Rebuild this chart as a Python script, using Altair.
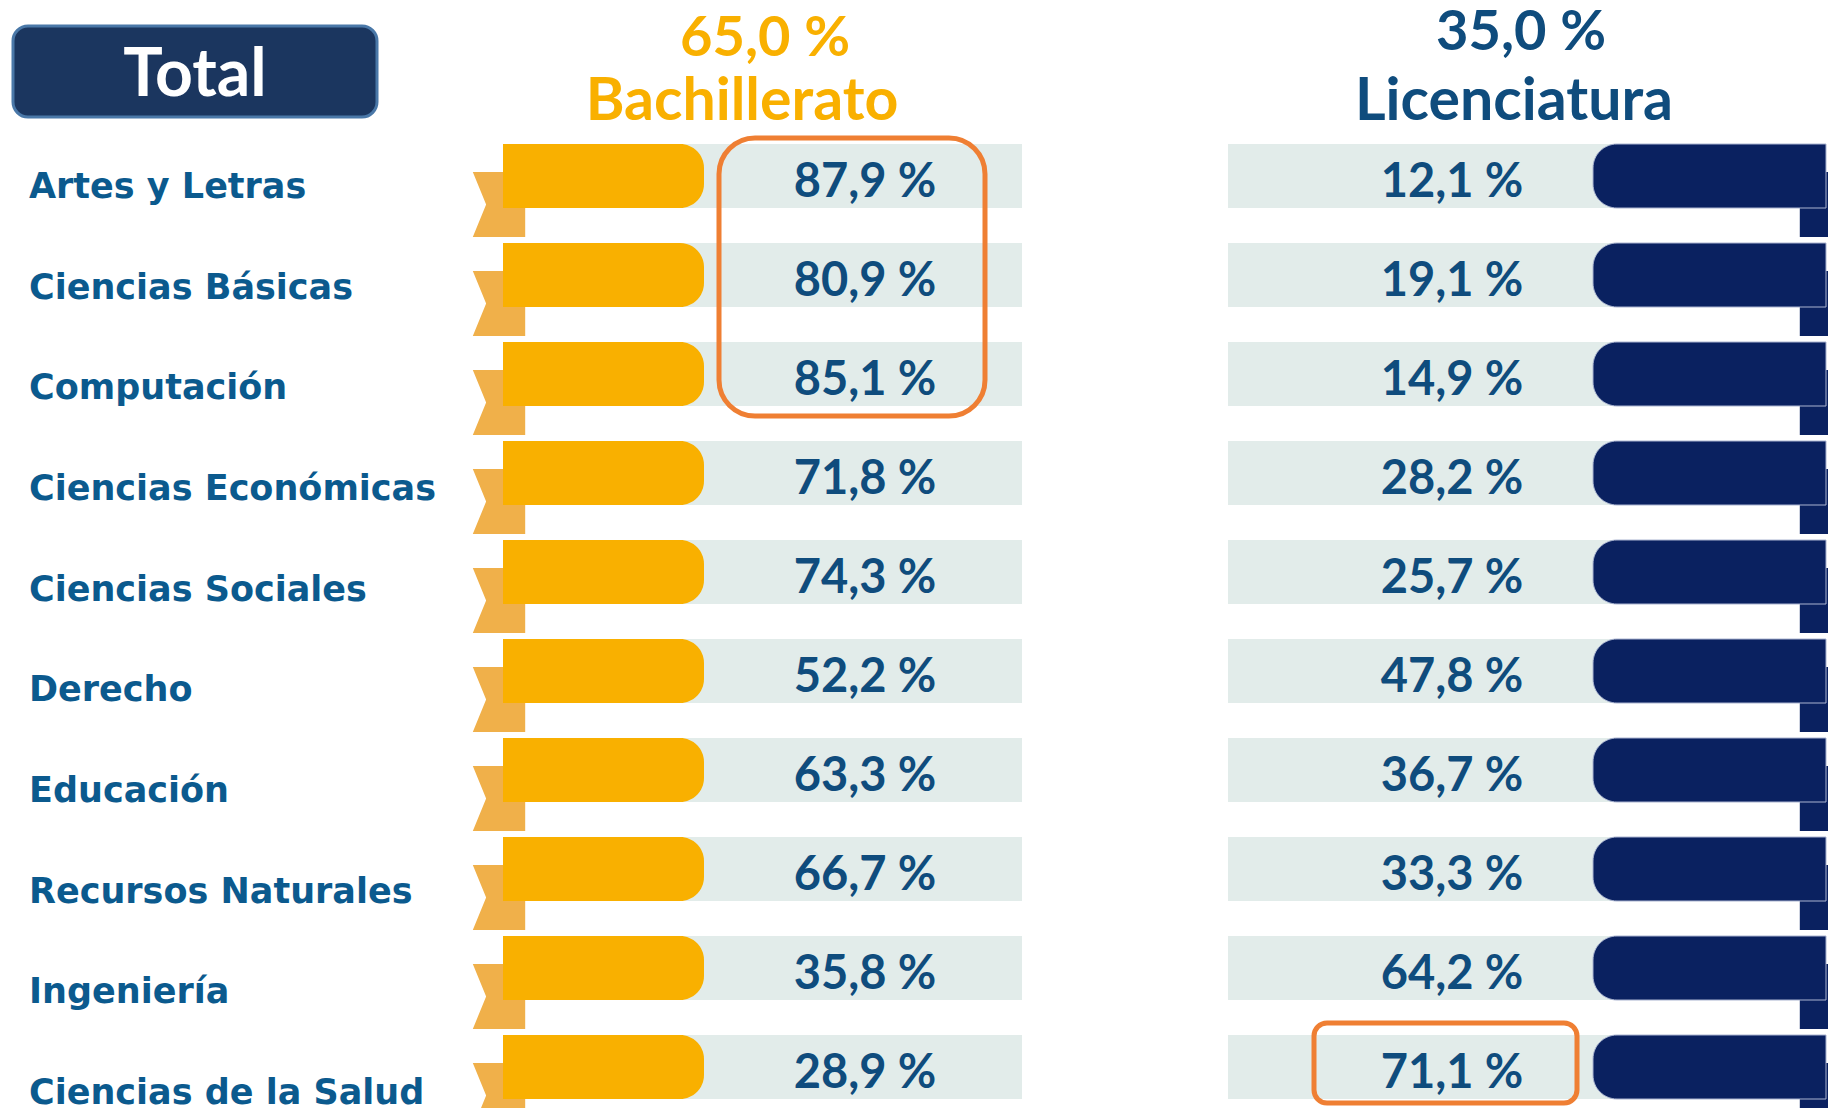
import altair as alt
import pandas as pd

# ---------------- data ----------------
categories = [
    "Artes y Letras", "Ciencias Básicas", "Computación", "Ciencias Económicas",
    "Ciencias Sociales", "Derecho", "Educación", "Recursos Naturales",
    "Ingeniería", "Ciencias de la Salud",
]
bachillerato = [87.9, 80.9, 85.1, 71.8, 74.3, 52.2, 63.3, 66.7, 35.8, 28.9]
licenciatura = [12.1, 19.1, 14.9, 28.2, 25.7, 47.8, 36.7, 33.3, 64.2, 71.1]
group_names = ["Bachillerato", "Licenciatura"]
group_totals = [65.0, 35.0]
title_text = ["Total"]
# highlighted cells: group, first row, last row
highlight_groups = ["Bachillerato", "Licenciatura"]
highlight_first = [0, 9]
highlight_last = [2, 9]


def pct(v):
    return f"{v:.1f}".replace(".", ",") + " %"


rows = pd.DataFrame({
    "row": list(range(len(categories))),
    "category": categories,
    "bach": bachillerato,
    "lic": licenciatura,
})
rows["bach_txt"] = [pct(v) for v in bachillerato]
rows["lic_txt"] = [pct(v) for v in licenciatura]

hdr = pd.DataFrame({"group": group_names, "total_txt": [pct(v) for v in group_totals]})
ttl = pd.DataFrame({"title": title_text})
hl = pd.DataFrame({"group": highlight_groups, "first": highlight_first, "last": highlight_last})

# ---------------- layout / style ----------------
PLOT_W, PLOT_H = 1820, 1100
ROW0 = 176          # screen y of first row centre
ROW_PX = 99         # pixels per row
LABEL_STEP = 100.67 / ROW_PX
LABEL_OFF = 22 / ROW_PX

ORANGE = "#f9b000"
ORANGE_TAIL = "#f0b04a"
NAVY = "#0a2160"
GRAY = "#e2ecea"
TXT = "#0f4c7d"
LABEL = "#0b5a8e"
HL = "#ef7f33"


def u(px):
    return px / ROW_PX


def sy(screen_y):
    return (screen_y - ROW0) / ROW_PX


XS = alt.Scale(domain=[8, 8 + PLOT_W], nice=False, zero=False)
YS = alt.Scale(domain=[sy(8), sy(8 + PLOT_H)], reverse=True, nice=False, zero=False)


def X(v):
    return alt.XDatum(v, type="quantitative", scale=XS, axis=None)


def X2(v):
    return alt.X2Datum(v)


def Yf(field):
    return alt.Y(field, type="quantitative", scale=YS, axis=None)


def Yd(v):
    return alt.YDatum(v, type="quantitative", scale=YS, axis=None)


TAIL_L = "M -0.806 -1 L 0.806 -1 L 0.806 1 L -0.806 1 L -0.396 0 Z"
TAIL_R = "M -0.806 -1 L 0.806 -1 L 0.396 0 L 0.806 1 L -0.806 1 Z"

base = alt.Chart(rows).transform_calculate(
    yt=f"datum.row - {u(32)}",
    yb=f"datum.row + {u(32)}",
    ytail=f"datum.row + {u(28.5)}",
    yval=f"datum.row + {u(21)}",
    ylab=f"datum.row * {LABEL_STEP} + {LABEL_OFF}",
)

gray_l = base.mark_rect(color=GRAY).encode(x=X(503), x2=X2(1022), y=Yf("yt"), y2="yb:Q")
tail_l = base.mark_point(shape=TAIL_L, size=65 * 65, filled=True, color=ORANGE_TAIL, opacity=1).encode(
    x=X(499), y=Yf("ytail"))
bar_l = base.mark_rect(color=ORANGE, cornerRadiusTopRight=24, cornerRadiusBottomRight=24).encode(
    x=X(503), x2=X2(704), y=Yf("yt"), y2="yb:Q")

gray_r = base.mark_rect(color=GRAY).encode(x=X(1228), x2=X2(1826), y=Yf("yt"), y2="yb:Q")
tail_r = base.mark_point(shape=TAIL_R, size=65 * 65, filled=True, color=NAVY, opacity=1).encode(
    x=X(1826), y=Yf("ytail"))
bar_r = base.mark_rect(color=NAVY, cornerRadiusTopLeft=24, cornerRadiusBottomLeft=24,
                       stroke="#aab4d0", strokeWidth=1).encode(
    x=X(1593), x2=X2(1826), y=Yf("yt"), y2="yb:Q")

val_l = base.mark_text(font="Lato", fontWeight="bold", fontSize=47, color=TXT,
                       align="center", baseline="alphabetic").encode(
    x=X(865), y=Yf("yval"), text="bach_txt:N")
val_r = base.mark_text(font="Lato", fontWeight="bold", fontSize=47, color=TXT,
                       align="center", baseline="alphabetic").encode(
    x=X(1452), y=Yf("yval"), text="lic_txt:N")

labels = base.mark_text(font="DejaVu Sans", fontWeight="bold", fontSize=35, color=LABEL,
                        align="left", baseline="alphabetic").encode(
    x=X(29), y=Yf("ylab"), text="category:N")

# headers
hdr_layers = []
for name, color, cx_pct, cx_name, base_pct in [
    (group_names[0], ORANGE, 765, 742, 56),
    (group_names[1], TXT, 1521, 1514, 50),
]:
    h = alt.Chart(hdr).transform_filter(alt.datum.group == name)
    hdr_layers.append(h.mark_text(font="Lato", fontWeight="bold", fontSize=56, color=color,
                                  align="center", baseline="alphabetic").encode(
        x=X(cx_pct), y=Yd(sy(base_pct)), text="total_txt:N"))
    hdr_layers.append(h.mark_text(font="Lato", fontWeight="bold", fontSize=59, color=color,
                                  align="center", baseline="alphabetic").encode(
        x=X(cx_name), y=Yd(sy(120)), text="group:N"))

# title box
tbox = alt.Chart(ttl).mark_rect(fill="#1b365f", stroke="#4a78a8", strokeWidth=3, cornerRadius=15).encode(
    x=X(13), x2=X2(377), y=Yd(sy(26)), y2=alt.Y2Datum(sy(117)))
ttext = alt.Chart(ttl).mark_text(font="Lato", fontWeight="bold", fontSize=66, color="white",
                                 align="center", baseline="alphabetic").encode(
    x=X(195), y=Yd(sy(96)), text="title:N")

# highlight boxes
hl_l = alt.Chart(hl).transform_filter(alt.datum.group == group_names[0]).transform_calculate(
    yt=f"datum.first - {u(38)}", yb=f"datum.last + {u(42)}"
).mark_rect(filled=False, stroke=HL, strokeWidth=5, cornerRadius=36).encode(
    x=X(719), x2=X2(985), y=Yf("yt"), y2="yb:Q")
hl_r = alt.Chart(hl).transform_filter(alt.datum.group == group_names[1]).transform_calculate(
    yt=f"datum.first - {u(44)}", yb=f"datum.last + {u(36)}"
).mark_rect(filled=False, stroke=HL, strokeWidth=5, cornerRadius=13).encode(
    x=X(1314), x2=X2(1577), y=Yf("yt"), y2="yb:Q")

chart = alt.layer(
    gray_l, tail_l, bar_l, gray_r, tail_r, bar_r,
    val_l, val_r, labels, *hdr_layers, tbox, ttext, hl_l, hl_r,
).properties(
    width=PLOT_W, height=PLOT_H,
    autosize=alt.AutoSizeParams(type="none"),
    padding=0, background="white",
).configure_view(strokeWidth=0)

chart.save("out.html", embed_options={"renderer": "svg", "actions": False})
